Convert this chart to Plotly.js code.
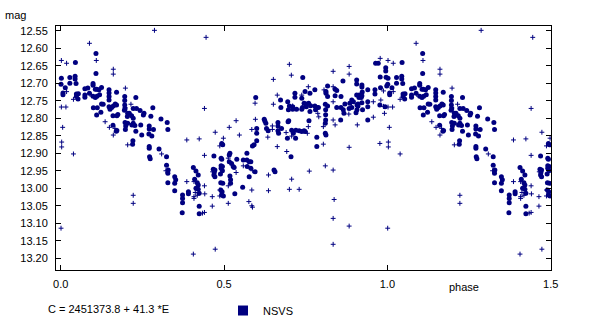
<!DOCTYPE html>
<html>
<head>
<meta charset="utf-8">
<script src="https://cdn.plot.ly/plotly-3.0.1.min.js"></script>
<style>html,body{margin:0;padding:0;background:#fff;}#chart{width:600px;height:327px;}</style>
</head>
<body>
<div id="chart"></div>
<script>
// Phase-folded light curve (phase 0..1); phases <= 0.5 are repeated at phase+1 as in the original plot.
const bigPhase = [
0.108,0.045,0.108,0.002,0.028,0.044,0.044,0.001,0.014,0.047,0.028,0.099,0.099,0.083,0.074,0.106,0.110,0.117,0.125,0.148,0.148,0.171,0.007,0.007,0.048,0.048,0.054,0.053,0.074,0.074,0.088,0.099,0.106,0.111,0.119,0.125,0.130,0.148,0.148,0.196,0.196,0.196,0.230,0.222,0.232,0.282,0.100,0.112,0.156,0.161,0.171,
0.123,0.110,0.148,0.151,0.167,0.197,0.195,0.210,0.205,0.217,0.222,0.222,0.218,0.243,0.255,0.160,0.172,0.175,0.160,0.170,0.172,0.197,0.199,0.198,0.205,0.204,0.227,0.230,0.245,0.253,0.276,0.271,0.271,0.284,0.248,0.270,0.279,0.307,0.326,0.328,0.221,0.220,0.271,0.271,0.301,0.272,0.274,0.324,0.324,0.329,0.328,0.328,0.349,0.352,0.349,0.349,
0.406,0.414,0.421,0.418,0.421,0.414,0.421,0.424,0.424,0.424,0.391,0.391,0.373,0.373,0.373,0.372,0.410,
0.741,0.964,0.972,0.995,0.995,0.978,0.996,0.906,0.906,0.922,0.922,0.864,0.940,0.962,0.962,0.979,0.998,0.817,0.812,0.812,0.840,0.845,0.817,0.840,0.858,0.778,0.763,0.748,0.717,0.717,0.738,0.673,0.597,0.695,0.700,0.710,0.674,0.745,0.751,0.759,0.740,0.752,0.765,0.778,0.784,0.810,0.817,0.845,0.858,0.870,0.891,0.906,0.914,0.913,0.923,0.922,0.920,0.910,0.910,0.891,0.940,0.940,0.977,0.993,
0.697,0.710,0.722,0.738,0.763,0.780,0.789,0.811,0.811,0.811,0.885,0.896,0.865,0.883,0.907,0.907,0.922,0.924,0.867,0.904,0.857,0.940,0.810,0.810,0.812,0.784,0.784,0.760,0.720,0.745,0.738,0.748,0.730,0.719,0.698,0.696,0.707,0.712,0.694,0.676,0.665,0.665,0.665,0.667,0.630,0.635,0.623,0.625,0.628,0.600,0.600,0.600,0.592,0.587,
0.493,0.496,0.469,0.518,0.516,0.523,0.516,0.491,0.493,0.491,0.491,0.495,0.495,0.489,0.467,0.472,0.470,0.528,0.531,0.539,0.559,0.570,0.577,0.582,0.570,0.571,0.582,0.577,0.595,0.469,0.472,0.490,0.496,0.490,0.493,0.498,0.494,0.518,0.520,0.520,0.533,0.557,0.653,0.656,0.705
];
const bigMag = [
12.615,12.641,12.672,12.686,12.684,12.680,12.688,12.703,12.713,12.701,12.700,12.701,12.706,12.714,12.716,12.717,12.717,12.719,12.712,12.719,12.728,12.726,12.728,12.733,12.731,12.738,12.730,12.745,12.734,12.740,12.729,12.737,12.741,12.737,12.733,12.759,12.760,12.738,12.748,12.738,12.749,12.762,12.741,12.772,12.772,12.770,12.770,12.770,12.769,12.765,12.762,
12.783,12.791,12.767,12.774,12.759,12.773,12.777,12.786,12.786,12.793,12.800,12.814,12.819,12.778,12.786,12.793,12.793,12.789,12.820,12.837,12.835,12.812,12.822,12.832,12.814,12.795,12.821,12.837,12.819,12.791,12.794,12.822,12.831,12.832,12.848,12.845,12.851,12.802,12.812,12.832,12.864,12.874,12.881,12.886,12.888,12.910,12.916,12.910,12.934,12.948,12.957,12.984,12.967,12.976,12.986,13.007,
12.941,12.951,12.962,12.984,12.991,13.000,13.003,13.014,13.051,13.073,13.010,13.016,13.019,13.029,13.041,13.070,12.974,
12.684,12.643,12.643,12.656,12.665,12.682,12.683,12.691,12.702,12.705,12.711,12.694,12.719,12.719,12.731,12.713,12.708,12.708,12.724,12.729,12.717,12.721,12.738,12.736,12.738,12.719,12.729,12.724,12.729,12.740,12.743,12.748,12.741,12.753,12.765,12.767,12.769,12.757,12.759,12.757,12.769,12.767,12.764,12.765,12.769,12.760,12.765,12.769,12.769,12.759,12.748,12.734,12.734,12.741,12.725,12.736,12.741,12.759,12.765,12.769,12.753,12.767,12.762,12.767,
12.776,12.774,12.774,12.774,12.781,12.776,12.769,12.776,12.790,12.805,12.757,12.753,12.776,12.772,12.762,12.776,12.756,12.776,12.786,12.784,12.805,12.805,12.814,12.843,12.848,12.854,12.881,12.807,12.834,12.836,12.838,12.838,12.836,12.857,12.807,12.810,12.834,12.843,12.857,12.829,12.812,12.822,12.836,12.843,12.829,12.836,12.803,12.808,12.814,12.829,12.843,12.864,12.876,12.879,
12.872,12.876,12.908,12.900,12.905,12.929,12.924,12.914,12.917,12.936,12.943,12.938,12.950,12.959,12.946,12.948,12.955,12.938,12.941,12.917,12.919,12.919,12.924,12.924,12.900,12.938,12.943,12.967,12.953,12.962,12.967,12.984,12.986,13.005,13.019,13.022,13.010,12.965,12.976,12.986,13.016,12.997,12.948,12.953,12.910
];
const smallPhase = [
0.287,0.088,0.109,0.002,0.018,0.161,0.161,0.090,0.198,0.018,0.039,0.215,0.002,0.016,0.197,0.136,0.149,0.161,0.166,0.386,0.424,0.205,0.309,0.039,0.003,0.003,0.006,0.386,0.408,0.408,0.408,0.222,0.222,0.001,0.406,0.445,
0.700,0.706,0.651,0.834,0.883,0.883,0.978,0.988,0.806,0.834,0.758,0.738,0.663,0.651,0.595,0.834,0.957,0.980,0.440,0.710,0.988,0.882,0.957,0.991,0.834,0.840,0.908,0.787,0.790,0.804,0.804,0.758,0.755,0.707,0.690,0.648,0.648,0.634,0.596,0.585,0.547,0.537,0.516,0.473,0.498,0.487,0.440,0.513,0.537,0.559,0.588,
0.576,0.585,0.587,0.513,0.585,0.440,0.441,0.464,0.513,0.464,0.636,0.636,0.663,0.692,0.707,0.700,0.730,0.761,0.810,0.834,0.837,0.883,0.977,0.434,0.440,0.473,0.834,0.834,0.883,0.465,0.487,0.487,0.322,0.412,0.418
];
const smallMag = [
12.549,12.586,12.635,12.635,12.643,12.660,12.674,12.732,12.714,12.724,12.746,12.760,12.768,12.768,12.769,12.810,12.826,12.848,12.829,12.862,12.859,12.876,12.902,12.902,12.868,12.882,12.826,12.981,12.981,13.024,13.029,13.020,13.043,13.114,13.188,12.569,
12.646,12.677,12.689,12.666,12.652,12.674,12.629,12.722,12.719,12.710,12.710,12.734,12.734,12.760,12.757,12.753,12.753,12.748,12.772,12.765,12.766,12.788,12.797,12.786,12.805,12.819,12.819,12.786,12.796,12.824,12.874,12.824,12.843,12.851,12.841,12.822,12.832,12.854,12.803,12.832,12.848,12.807,12.826,12.840,12.857,12.879,12.906,12.914,12.955,12.936,12.950,
13.038,13.050,13.054,12.993,13.005,12.993,13.016,13.024,13.043,13.051,12.962,13.007,12.881,12.895,12.974,13.003,13.003,12.951,12.936,12.948,13.032,12.883,12.872,13.071,13.069,13.174,13.086,13.160,13.108,12.953,13.005,13.022,12.950,13.012,13.020
];
const xTicks = [0, 0.5, 1.0, 1.5];
const yTicks = [12.55,12.60,12.65,12.70,12.75,12.80,12.85,12.90,12.95,13.00,13.05,13.10,13.15,13.20];
const legendName = 'NSVS';
const ephemeris = 'C = 2451373.8 + 41.3 *E';

function fold(ph, mg) {
  const x = [], y = [];
  const n = Math.min(ph.length, mg.length);
  for (let i = 0; i < n; i++) {
    x.push(ph[i]); y.push(mg[i]);
    if (ph[i] <= 0.5) { x.push(ph[i] + 1); y.push(mg[i]); }
  }
  return {x, y};
}
const B = fold(bigPhase, bigMag);
const S = fold(smallPhase, smallMag);
const navy = '#000080';

const traces = [
  {type:'scatter', mode:'markers', x:S.x, y:S.y, showlegend:false, hoverinfo:'skip',
   marker:{symbol:'cross-thin', size:3.5, color:navy, line:{color:navy, width:1}}},
  {type:'scatter', mode:'markers', x:B.x, y:B.y, showlegend:false, hoverinfo:'skip',
   marker:{symbol:'circle', size:5, color:navy, line:{width:0}}},
  {type:'scatter', mode:'markers', x:[null], y:[null], name:legendName, showlegend:true,
   marker:{symbol:'square', size:10, color:navy, line:{width:0}}}
];

const axisCommon = {
  ticks:'inside', ticklen:5, tickwidth:1, tickcolor:'#000',
  showline:true, linecolor:'#000', linewidth:1, mirror:'ticks',
  showgrid:false, zeroline:false, fixedrange:true, automargin:false,
  tickfont:{family:'"Liberation Sans", Arial, sans-serif', size:11, color:'#000'}
};

const layout = {
  width:600, height:327,
  margin:{l:56, r:49, t:26, b:57, pad:0, autoexpand:false},
  paper_bgcolor:'#fff', plot_bgcolor:'#fff',
  font:{family:'"Liberation Sans", Arial, sans-serif', size:11, color:'#000'},
  showlegend:true,
  legend:{orientation:'h', x:0.3374, xanchor:'left', y:-0.1066, yanchor:'top',
          bgcolor:'rgba(0,0,0,0)', borderwidth:0, font:{size:11, color:'#000'}},
  xaxis:Object.assign({}, axisCommon, {range:[-0.0144, 1.5009], tickvals:xTicks, tickformat:'.1f', ticklabelstandoff:4}),
  yaxis:Object.assign({}, axisCommon, {range:[13.2334, 12.5366], tickvals:yTicks, tickformat:'.2f', ticklabelstandoff:5}),
  annotations:[
    {text:'mag', xref:'paper', yref:'paper', x:-0.107, y:1.045, xanchor:'left', yanchor:'middle', showarrow:false, font:{size:11}},
    {text:'phase', xref:'paper', yref:'paper', x:0.8236, y:-0.0697, xanchor:'center', yanchor:'middle', showarrow:false, font:{size:11}},
    {text:ephemeris, xref:'paper', yref:'paper', x:-0.0202, y:-0.1598, xanchor:'left', yanchor:'middle', showarrow:false, font:{size:11}}
  ]
};

Plotly.newPlot('chart', traces, layout, {displayModeBar:false, staticPlot:true});
</script>
</body>
</html>
